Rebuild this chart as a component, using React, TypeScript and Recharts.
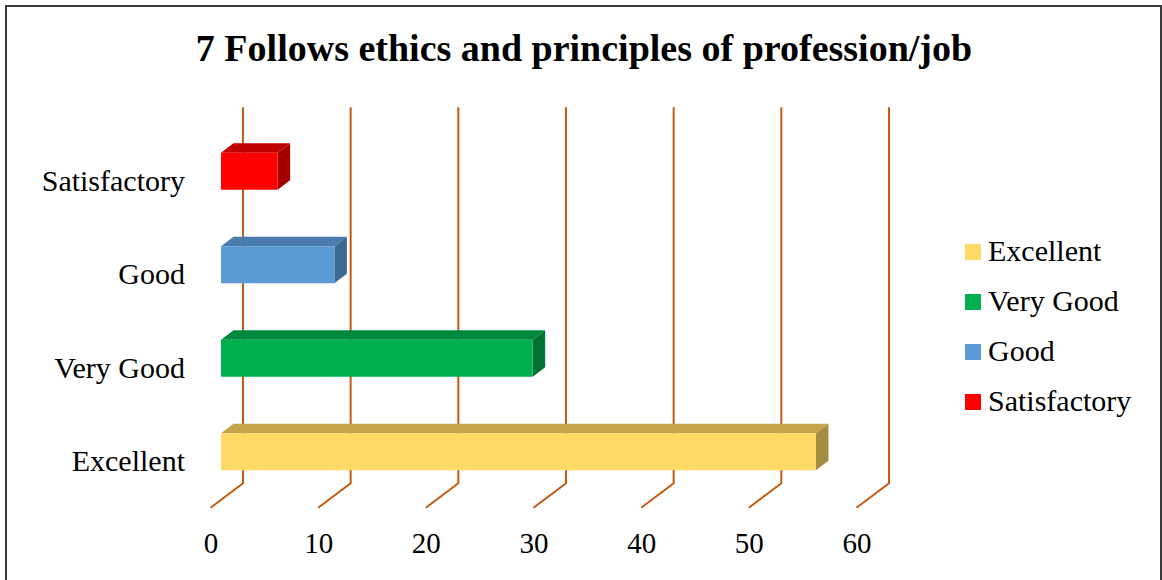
import React from "react";
import { BarChart, Bar, XAxis, YAxis, CartesianGrid, Cell, Legend } from "recharts";

// ---- data ----
const categories = ["Excellent", "Very Good", "Good", "Satisfactory"];
const percentValues = [55.26, 28.95, 10.53, 5.26];
const xTicks = [0, 10, 20, 30, 40, 50, 60];
const titleText = "7 Follows ethics and principles of profession/job";

// ---- styles ----
const FRONT = ["#FFD966", "#00B050", "#5B9BD5", "#FF0000"];
const TOP = ["#C4A54E", "#00883D", "#4A7DAD", "#C00000"];
const SIDE = ["#A48C43", "#007533", "#3E6893", "#A50000"];
const GRID_COLOR = "#C55A11";
const FONT = "'Liberation Serif', 'Times New Roman', serif";

const W = 1162;
const H = 580;
const DEPTH_X = 12.5;
const DEPTH_Y = 9.5;

const data = categories.map((name, i) => ({ name, value: percentValues[i] }));

const Bar3D = (props: any) => {
  const { x, y, width, height, index } = props;
  if (width == null || height == null) return null;
  const dx = DEPTH_X;
  const dy = DEPTH_Y;
  const top = `${x},${y} ${x + dx},${y - dy} ${x + width + dx},${y - dy} ${x + width},${y}`;
  const side = `${x + width},${y} ${x + width + dx},${y - dy} ${x + width + dx},${y + height - dy} ${x + width},${y + height}`;
  return (
    <g>
      <polygon points={top} fill={TOP[index]} />
      <polygon points={side} fill={SIDE[index]} />
      <rect x={x} y={y} width={width} height={height} fill={FRONT[index]} />
    </g>
  );
};

const GridLine = (props: any) => {
  const { x1, y1, y2 } = props;
  const backX = x1 + 22;
  const topY = y1 - 17.5;
  const floorY = y2 - 15.5;
  const frontX = x1 - 10.5;
  const frontY = floorY + 24.5;
  return (
    <path
      key={props.key}
      d={`M${backX},${topY} L${backX},${floorY} L${frontX},${frontY}`}
      stroke={GRID_COLOR}
      strokeWidth={2}
      fill="none"
    />
  );
};

const XTick = (props: any) => {
  const { x, payload } = props;
  return (
    <text x={x - 10} y={553} textAnchor="middle" fontFamily={FONT} fontSize={29} fill="#000">
      {payload.value}
    </text>
  );
};

const YTick = (props: any) => {
  const { y, payload } = props;
  return (
    <text x={185} y={y + 19} textAnchor="end" fontFamily={FONT} fontSize={30} fill="#000">
      {payload.value}
    </text>
  );
};

const LegendContent = () => (
  <div style={{ fontFamily: FONT, fontSize: 30, color: "#000" }}>
    {categories.map((c, i) => (
      <div key={c} style={{ display: "flex", alignItems: "center", height: 50 }}>
        <div style={{ width: 16, height: 16, background: FRONT[i], marginRight: 7 }} />
        <span style={{ lineHeight: "30px", position: "relative", top: -1 }}>{c}</span>
      </div>
    ))}
  </div>
);

export default function App() {
  return (
    <div
      style={{
        position: "absolute",
        left: 0,
        top: 0,
        width: W,
        height: H,
        overflow: "hidden",
        background: "#fff",
      }}
    >
      <div
        style={{
          position: "absolute",
          left: 5,
          top: 5,
          width: W - 5,
          height: 640,
          border: "2px solid #3a3a3a",
          boxSizing: "border-box",
        }}
      />
      <div style={{ position: "absolute", left: 0, top: 0 }}>
        <BarChart
          width={W}
          height={H}
          data={data}
          layout="vertical"
          margin={{ top: 124.75, right: 295, left: 21, bottom: 41.25 }}
          barSize={37}
        >
          <CartesianGrid horizontal={false} vertical={GridLine as any} />
          <XAxis
            type="number"
            domain={[0, 60]}
            ticks={xTicks}
            interval={0}
            axisLine={false}
            tickLine={false}
            height={40}
            tick={<XTick />}
          />
          <YAxis
            type="category"
            dataKey="name"
            reversed
            width={200}
            axisLine={false}
            tickLine={false}
            tick={<YTick />}
          />
          <Legend
            layout="horizontal"
            align="center"
            verticalAlign="middle"
            content={<LegendContent />}
            wrapperStyle={{ position: "absolute", left: 965, top: 227, width: 190, height: 200 }}
          />
          <Bar dataKey="value" isAnimationActive={false} shape={<Bar3D />}>
            {data.map((d, i) => (
              <Cell key={d.name} fill={FRONT[i]} />
            ))}
          </Bar>
        </BarChart>
      </div>
      <svg
        width={W}
        height={H}
        style={{ position: "absolute", left: 0, top: 0, pointerEvents: "none" }}
      >
        <text
          x={584}
          y={60.7}
          textAnchor="middle"
          fontFamily={FONT}
          fontWeight="bold"
          fontSize={38}
          fill="#000"
        >
          {titleText}
        </text>
      </svg>
    </div>
  );
}
